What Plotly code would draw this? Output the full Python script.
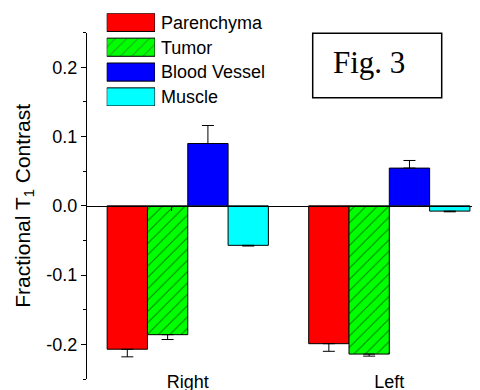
import plotly.graph_objects as go

# ---- data ----
groups = ["Right", "Left"]
series = ["Parenchyma", "Tumor", "Blood Vessel", "Muscle"]
colors = ["#FF0000", "#00FF00", "#0000FF", "#00FFFF"]
patterns = ["", "/", "", ""]
values = {
    "Parenchyma": [-0.207, -0.199],
    "Tumor": [-0.186, -0.214],
    "Blood Vessel": [0.090, 0.0545],
    "Muscle": [-0.057, -0.0076],
}
errors = {
    "Parenchyma": [0.011, 0.011],
    "Tumor": [0.007, 0.003],
    "Blood Vessel": [0.026, 0.011],
    "Muscle": [0.001, 0.001],
}
ytick_vals = [-0.2, -0.1, 0.0, 0.1, 0.2]
ytick_text = ["-0.2", "-0.1", "0.0", "0.1", "0.2"]
yminor_vals = [-0.25, -0.15, -0.05, 0.05, 0.15, 0.25]

FONT = "Liberation Sans, Arial, sans-serif"
OFF = 8  # page body margin
W, H = 480 - OFF, 390 - OFF
L = 87 - OFF
PW = W - L

def fy(py):  # page pixel y (from top) -> paper fraction
    return (H - (py - OFF)) / H

def fx(px):  # page pixel x -> paper fraction
    return (px - OFF - L) / PW

ydom = [fy(379), fy(32.7)]

fig = go.Figure()
for name, col, pat in zip(series, colors, patterns):
    vals = values[name]
    errs = errors[name]
    up = [e if v >= 0 else 0 for v, e in zip(vals, errs)]
    dn = [e if v < 0 else 0 for v, e in zip(vals, errs)]
    fig.add_trace(go.Bar(
        x=groups, y=vals, name=name, showlegend=False,
        marker=dict(color=col, line=dict(color="black", width=1),
                    pattern=dict(shape=pat, fgcolor="black", size=8, solidity=0.12)),
        error_y=dict(type="data", symmetric=False, array=up, arrayminus=dn,
                     color="black", thickness=1, width=6),
        xaxis="x", yaxis="y",
    ))

# dummy trace for zero-line axis
fig.add_trace(go.Scatter(x=[None], y=[None], xaxis="x2", yaxis="y",
                         showlegend=False, hoverinfo="skip"))

# legend-like swatches as a small horizontal bar subplot
fig.add_trace(go.Bar(
    x=[1] * len(series), y=list(range(len(series))), orientation="h",
    width=0.73, showlegend=False, hoverinfo="skip",
    marker=dict(color=colors, line=dict(color="black", width=1),
                pattern=dict(shape=patterns, fgcolor="black", size=8, solidity=0.12)),
    xaxis="x3", yaxis="y3",
))

mid = (ydom[0] + ydom[1]) / 2

fig.update_layout(
    width=W, height=H,
    margin=dict(l=L, r=0, t=0, b=0, autoexpand=False),
    paper_bgcolor="white", plot_bgcolor="white",
    barmode="group", bargap=0.2, bargroupgap=0,
    font=dict(family=FONT, size=18, color="black"),
    showlegend=False,
    xaxis=dict(
        type="category", range=[-0.5, 1.45], anchor="free", position=fy(369),
        showline=False, ticks="", showgrid=False, zeroline=False,
        tickfont=dict(size=18), automargin=False,
    ),
    xaxis2=dict(
        overlaying="x", matches="x", anchor="free", position=mid,
        showline=True, linecolor="black", linewidth=1,
        ticks="outside", ticklen=4, tickcolor="black",
        tickvals=[0.5], showticklabels=False, showgrid=False, zeroline=False,
        automargin=False,
    ),
    yaxis=dict(
        domain=ydom, range=[-0.25, 0.25],
        showline=True, linecolor="black", linewidth=1,
        ticks="outside", ticklen=5, tickcolor="black",
        tickvals=ytick_vals, ticktext=ytick_text,
        minor=dict(tickvals=yminor_vals, ticks="outside", ticklen=3, tickcolor="black"),
        showgrid=False, zeroline=False,
        tickfont=dict(size=18), automargin=False,
        title=dict(text="Fractional T<sub>1</sub> Contrast", font=dict(size=21), standoff=10),
    ),
    xaxis3=dict(domain=[fx(106.7), fx(155)], range=[0, 1], anchor="y3",
                visible=False, fixedrange=True),
    yaxis3=dict(domain=[fy(106), fy(13.3)], range=[3.365, -0.365], anchor="x3",
                side="right", showline=False, ticks="", showgrid=False, zeroline=False,
                tickvals=list(range(len(series))), ticktext=series,
                ticklabelstandoff=5,
                tickfont=dict(size=18), fixedrange=True, automargin=False),
    shapes=[dict(type="rect", xref="paper", yref="paper",
                 x0=fx(312.7), x1=fx(441.7), y0=fy(97.7), y1=fy(33.3),
                 line=dict(color="black", width=1.5))],
    annotations=[dict(text="Fig. 3", xref="paper", yref="paper",
                      x=fx(369), y=fy(63), xanchor="center", yanchor="middle",
                      showarrow=False,
                      font=dict(family="Liberation Serif, Times New Roman, serif", size=31, color="black"))],
)

fig.write_html("out.html")
